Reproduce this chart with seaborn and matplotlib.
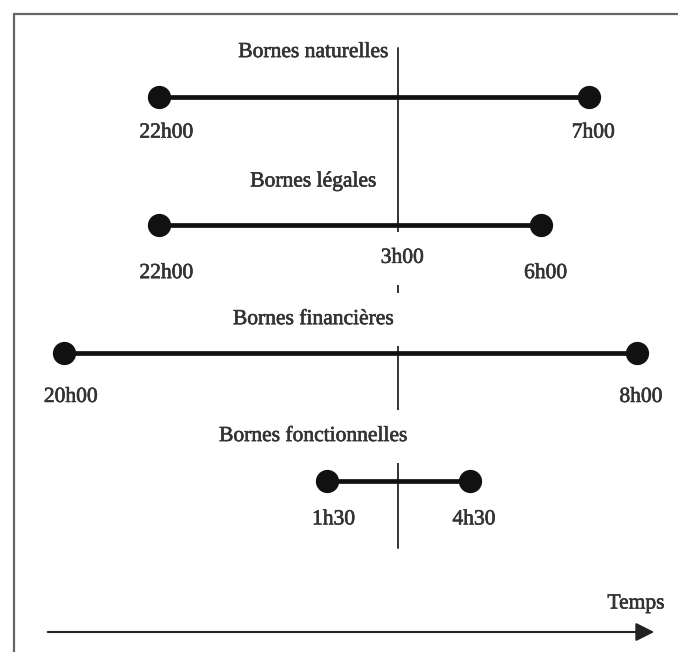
"""
Bornes temporelles de la nuit : schéma en segments.
"""

import matplotlib
matplotlib.use('Agg')
import matplotlib.pyplot as plt
import matplotlib.patheffects as pe
import seaborn as sns
import pandas as pd

# Données
bornes = ['Bornes naturelles', 'Bornes légales', 'Bornes financières', 'Bornes fonctionnelles']
debut_h = [22.0, 22.0, 20.0, 25.5]      # heures continues (24 = minuit)
fin_h = [31.0, 30.0, 32.0, 28.5]
debut_lbl = ['22h00', '22h00', '20h00', '1h30']
fin_lbl = ['7h00', '6h00', '8h00', '4h30']
repere_h = 27.0
repere_lbl = '3h00'
axe_lbl = 'Temps'

rows = []
for i, b in enumerate(bornes):
    rows.append({'borne': b, 'rang': i, 'heure': debut_h[i]})
    rows.append({'borne': b, 'rang': i, 'heure': fin_h[i]})
df = pd.DataFrame(rows)

sns.set_style('white')
plt.rcParams['font.family'] = ['Liberation Serif', 'DejaVu Serif']

fig = plt.figure(figsize=(6.78, 6.52), dpi=100)
ax = fig.add_axes([0, 0, 1, 1])

ink = '#111111'
txt = '#333333'
fs = 15.5
gras = [pe.withStroke(linewidth=0.45, foreground=txt)]

# Segments + extrémités
sns.lineplot(data=df, x='heure', y='rang', units='borne', estimator=None,
             color=ink, linewidth=3.4, ax=ax, legend=False, zorder=3)
sns.scatterplot(data=df, x='heure', y='rang', color=ink, s=240,
                edgecolor=ink, ax=ax, legend=False, zorder=4)

# Ligne de repère (3h00)
ax.plot([repere_h, repere_h], [-0.38, len(bornes) - 1 + 0.52],
        color='#333333', linewidth=1.4, zorder=1)

# décalages (points) des titres et des étiquettes, par ligne
titre_dy = [32, 31, 24, 32]
lbl_dy = [26, 35, 32, 28]
avec_fond = [False, False, True, True]

box = dict(boxstyle='square,pad=0.8', fc='white', ec='none')
for i, b in enumerate(bornes):
    ax.annotate(b, xy=(0.462, i), xycoords=('axes fraction', 'data'),
                xytext=(0, titre_dy[i]), textcoords='offset points',
                ha='center', va='center', fontsize=fs, color=txt,
                bbox=box if avec_fond[i] else None, zorder=2,
                path_effects=gras)
    ax.annotate(debut_lbl[i], xy=(debut_h[i], i), xytext=(5, -lbl_dy[i]),
                textcoords='offset points', ha='center', va='center',
                fontsize=fs, color=txt, zorder=5, path_effects=gras)
    ax.annotate(fin_lbl[i], xy=(fin_h[i], i), xytext=(3, -lbl_dy[i]),
                textcoords='offset points', ha='center', va='center',
                fontsize=fs, color=txt, zorder=5, path_effects=gras)

ax.annotate(repere_lbl, xy=(repere_h, 1), xytext=(3, -24),
            textcoords='offset points', ha='center', va='center',
            fontsize=fs, color=txt, bbox=box, zorder=2, path_effects=gras)

# Échelles (px = 47.75 par heure, 20h00 à x=64)
ax.set_xlim(18.66, 32.86)
ax.set_ylim(4.336, -0.758)
ax.axis('off')

# Cadre (bords gauche et haut)
fig.add_artist(plt.Line2D([14 / 678, 14 / 678], [0, 1 - 14 / 652],
                          color='#666666', linewidth=1.6))
fig.add_artist(plt.Line2D([14 / 678, 1], [1 - 14 / 652, 1 - 14 / 652],
                          color='#666666', linewidth=1.6))

# Flèche du temps
fig.patches.append(matplotlib.patches.FancyArrowPatch(
    (45 / 678, 1 - 632 / 652), (657 / 678, 1 - 632 / 652),
    transform=fig.transFigure, arrowstyle='-|>,head_length=0.8,head_width=0.4',
    mutation_scale=14, color='#222222', linewidth=1.5))
fig.text(636 / 678, 1 - 604 / 652, axe_lbl, ha='center', va='center',
         fontsize=fs, color=txt, path_effects=gras)

fig.savefig('out.png', dpi=100, facecolor='white')
